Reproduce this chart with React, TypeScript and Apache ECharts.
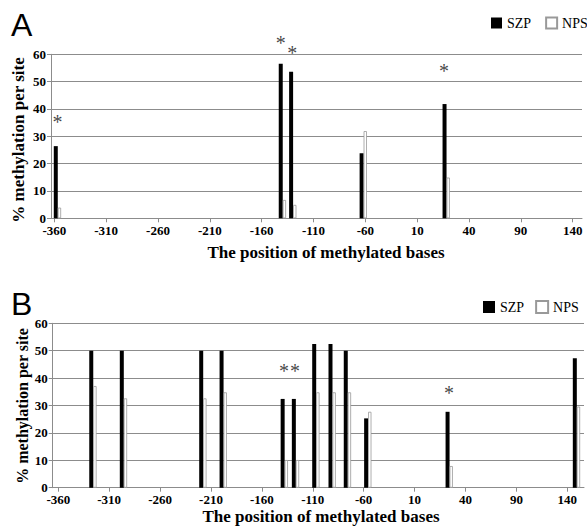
import React, { useEffect, useRef } from "react";
import * as echarts from "echarts";

// x tick positions (linear) and their printed labels
const xTickValues = [-360, -310, -260, -210, -160, -110, -60, -10, 40, 90, 140];
const xTickLabels = ["-360", "-310", "-260", "-210", "-160", "-110", "-60", "10", "40", "90", "140"];

// Panel A
const posA = [-357, -140, -130, -62, 18];
const szpA = [26.4, 56.5, 53.6, 23.8, 41.8];
const npsA = [3.9, 6.7, 4.9, 31.9, 14.9];
const starsA: [number, number][] = [[-357, 36.6], [-141.5, 65.6], [-130.5, 61.8], [16, 55.2]];

// Panel B
const posB = [-326, -296, -218, -198, -138, -127, -107, -91, -76, -56, 24, 149];
const szpB = [50, 50, 50, 50, 32.4, 32.4, 52.4, 52.4, 50, 25.3, 27.7, 47.2];
const npsB = [37.1, 32.6, 32.6, 34.8, 10.1, 10.1, 34.8, 34.8, 34.8, 27.7, 7.9, 29.6];
const starsB: [number, number][] = [[-138.3, 43.9], [-127.5, 43.9], [23.8, 35.9]];

const SERIF = '"Liberation Serif", "Times New Roman", serif';
const SANS = '"Liberation Sans", Arial, sans-serif';
const GRID_COLOR = "#8c8c8c";

function zip(xs: number[], ys: number[]) {
  return xs.map((x, i) => [x, ys[i]]);
}

function xAxisFor(gridIndex: number, min: number, max: number, margin: number) {
  return {
    type: "value",
    gridIndex,
    min,
    max,
    axisLine: { show: true, onZero: false, lineStyle: { color: GRID_COLOR, width: 1 } },
    axisTick: { show: true, customValues: xTickValues, length: 4, lineStyle: { color: GRID_COLOR } },
    axisLabel: {
      show: true,
      customValues: xTickValues,
      margin,
      color: "#000",
      fontFamily: SERIF,
      fontWeight: "bold",
      fontSize: 13,
      lineHeight: 13,
      formatter: (v: number) => {
        const i = xTickValues.indexOf(Math.round(v));
        return i >= 0 ? xTickLabels[i] : "";
      },
    },
    splitLine: { show: false },
  };
}

function yAxisFor(gridIndex: number) {
  return {
    type: "value",
    gridIndex,
    min: 0,
    max: 60,
    interval: 10,
    axisLine: { show: true, onZero: false, lineStyle: { color: GRID_COLOR, width: 1 } },
    axisTick: { show: true, length: 4, lineStyle: { color: GRID_COLOR } },
    axisLabel: {
      margin: 5,
      color: "#000",
      fontFamily: SERIF,
      fontWeight: "bold",
      fontSize: 13,
      lineHeight: 13,
    },
    splitLine: { show: true, lineStyle: { color: GRID_COLOR, width: 1 } },
  };
}

function barSeries(idx: number, pos: number[], szp: number[], nps: number[]) {
  return [
    {
      name: "SZP",
      type: "bar",
      xAxisIndex: idx,
      yAxisIndex: idx,
      data: zip(pos, szp),
      barWidth: 4,
      barGap: "0%",
      itemStyle: { color: "#000" },
    },
    {
      name: "NPS",
      type: "bar",
      xAxisIndex: idx,
      yAxisIndex: idx,
      data: zip(pos, nps),
      barWidth: 3.3,
      barGap: "0%",
      itemStyle: { color: "#fff", borderColor: "#999", borderWidth: 0.8 },
    },
  ];
}

function starSeries(idx: number, stars: [number, number][]) {
  return {
    name: "stars" + idx,
    type: "scatter",
    xAxisIndex: idx,
    yAxisIndex: idx,
    clip: false,
    silent: true,
    symbolSize: 1,
    itemStyle: { color: "rgba(0,0,0,0)" },
    data: stars,
    label: {
      show: true,
      position: "inside",
      formatter: "*",
      fontFamily: SERIF,
      fontSize: 20,
      color: "#111",
      offset: [0, 4],
    },
  };
}

function legendFor(left: number, top: number, size: number, gap: number) {
  return {
    data: ["SZP", "NPS"],
    left,
    top,
    width: 140,
    padding: 0,
    orient: "horizontal",
    icon: "rect",
    itemWidth: size,
    itemHeight: size,
    itemGap: gap,
    selectedMode: false,
    textStyle: { fontFamily: SERIF, fontSize: 14, color: "#000" },
  };
}

export default function App() {
  const ref = useRef<HTMLDivElement>(null);
  useEffect(() => {
    if (!ref.current) return;
    const chart = echarts.init(ref.current, undefined, { renderer: "svg" });
    const option = {
      animation: false,
      backgroundColor: "#fff",
      grid: [
        { left: 51, right: 5, top: 54.3, height: 164 },
        { left: 52.7, right: 3, top: 323.3, height: 164.4 },
      ],
      xAxis: [xAxisFor(0, -363.2, 149, 6), xAxisFor(1, -365.5, 156.4, 5)],
      yAxis: [yAxisFor(0), yAxisFor(1)],
      legend: [legendFor(491, 16, 11, 14), legendFor(483, 300, 12, 11)],
      series: [
        ...barSeries(0, posA, szpA, npsA),
        starSeries(0, starsA),
        ...barSeries(1, posB, szpB, npsB),
        starSeries(1, starsB),
      ],
      graphic: [
        { type: "text", x: 11, y: 25, style: { text: "A", font: `32px ${SANS}`, fill: "#000", verticalAlign: "middle", align: "left" } },
        { type: "text", x: 11, y: 303.5, style: { text: "B", font: `32px ${SANS}`, fill: "#000", verticalAlign: "middle", align: "left" } },
        { type: "text", x: 326, y: 252, style: { text: "The position of methylated bases", font: `bold 17px ${SERIF}`, fill: "#000", align: "center", verticalAlign: "middle" } },
        { type: "text", x: 321, y: 516.5, style: { text: "The position of methylated bases", font: `bold 17px ${SERIF}`, fill: "#000", align: "center", verticalAlign: "middle" } },
        { type: "text", x: 18.5, y: 140, rotation: Math.PI / 2, style: { text: "% methylation per site", font: `bold 17px ${SERIF}`, fill: "#000", align: "center", verticalAlign: "middle" } },
        { type: "text", x: 22.5, y: 406, rotation: Math.PI / 2, style: { text: "% methylation per site", font: `bold 16px ${SERIF}`, fill: "#000", align: "center", verticalAlign: "middle" } },
      ],
    };
    chart.setOption(option as any);
    return () => chart.dispose();
  }, []);
  return (
    <div
      ref={ref}
      style={{ position: "fixed", left: 0, top: 0, width: 587, height: 531, background: "#fff" }}
    />
  );
}
